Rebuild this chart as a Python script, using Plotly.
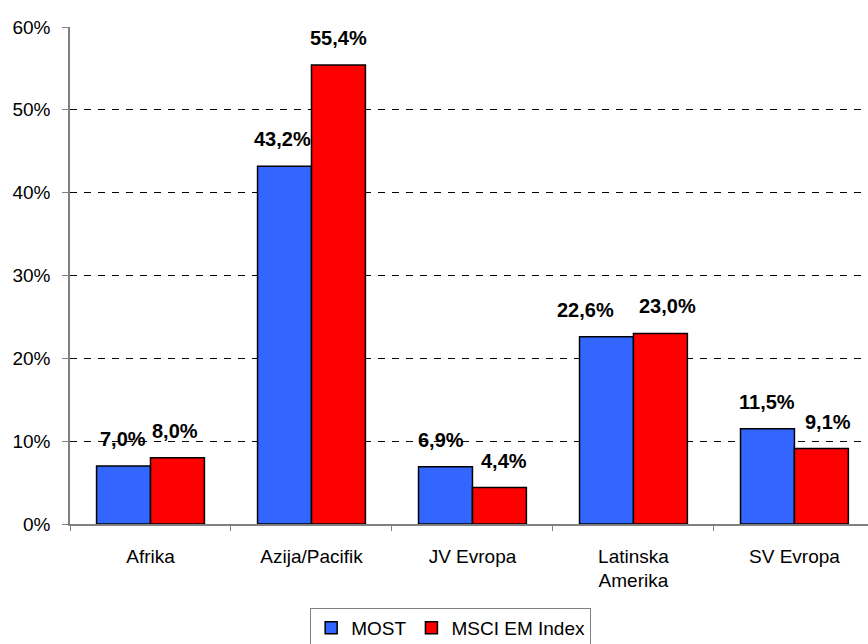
import plotly.graph_objects as go

categories = ["Afrika", "Azija/Pacifik", "JV Evropa", "Latinska<br>Amerika", "SV Evropa"]
most_values = [7.0, 43.2, 6.9, 22.6, 11.5]
msci_values = [8.0, 55.4, 4.4, 23.0, 9.1]
series_names = ["MOST", "MSCI EM Index"]
y_tick_vals = [0, 10, 20, 30, 40, 50, 60]
y_tick_text = ["0%", "10%", "20%", "30%", "40%", "50%", "60%"]

# label nudges (px), style only
most_label_nudge = [0, -2, -4, -21, 0]
msci_label_nudge = [-2, 0, 5, 7, 7]

FONT = "Liberation Sans, Arial, sans-serif"

def fmt(v):
    return f"{v:.1f}".replace(".", ",") + "%"

fig = go.Figure()
fig.add_trace(go.Bar(x=categories, y=most_values, name=series_names[0],
                     marker=dict(color="#3366FF", line=dict(color="black", width=1.5))))
fig.add_trace(go.Bar(x=categories, y=msci_values, name=series_names[1],
                     marker=dict(color="#FF0000", line=dict(color="black", width=1.5))))

annotations = []
for c, v, n in zip(categories, most_values, most_label_nudge):
    annotations.append(dict(x=c, y=v, text=fmt(v), showarrow=False, xshift=-27 + n, yshift=14,
                            yanchor="bottom", font=dict(family=FONT, size=20, color="black", weight="bold")))
for c, v, n in zip(categories, msci_values, msci_label_nudge):
    annotations.append(dict(x=c, y=v, text=fmt(v), showarrow=False, xshift=27 + n, yshift=14,
                            yanchor="bottom", font=dict(family=FONT, size=20, color="black", weight="bold")))

fig.update_layout(
    width=868, height=644,
    margin=dict(l=70, r=0, t=27, b=120, autoexpand=False),
    paper_bgcolor="white", plot_bgcolor="white",
    barmode="group", bargap=0.33, bargroupgap=0,
    font=dict(family=FONT, size=19, color="black"),
    annotations=annotations,
    showlegend=True,
    legend=dict(orientation="h", x=0.477, xanchor="center", y=-0.169, yanchor="top",
                bordercolor="#808080", borderwidth=1, font=dict(size=19, family=FONT),
                itemwidth=30, tracegroupgap=0),
    xaxis=dict(type="category", range=[-0.5, 4.457], showline=True, linecolor="#808080", linewidth=1.5,
               ticks="outside", tickson="boundaries", ticklen=5, tickcolor="#808080",
               ticklabelstandoff=14, automargin=False,
               showgrid=False, tickfont=dict(size=19, family=FONT)),
    yaxis=dict(range=[0, 60], tickvals=y_tick_vals, ticktext=y_tick_text,
               showline=True, linecolor="#808080", linewidth=1.5,
               ticks="outside", ticklen=6, tickcolor="#808080", automargin=False,
               showgrid=True, gridcolor="black", gridwidth=1, griddash="7px,7px",
               zeroline=False, ticklabelstandoff=8, tickfont=dict(size=19, family=FONT)),
)

fig.write_html("out.html", config={"displayModeBar": False},
               post_script="document.body.style.margin='0';document.body.style.overflow='hidden';")
